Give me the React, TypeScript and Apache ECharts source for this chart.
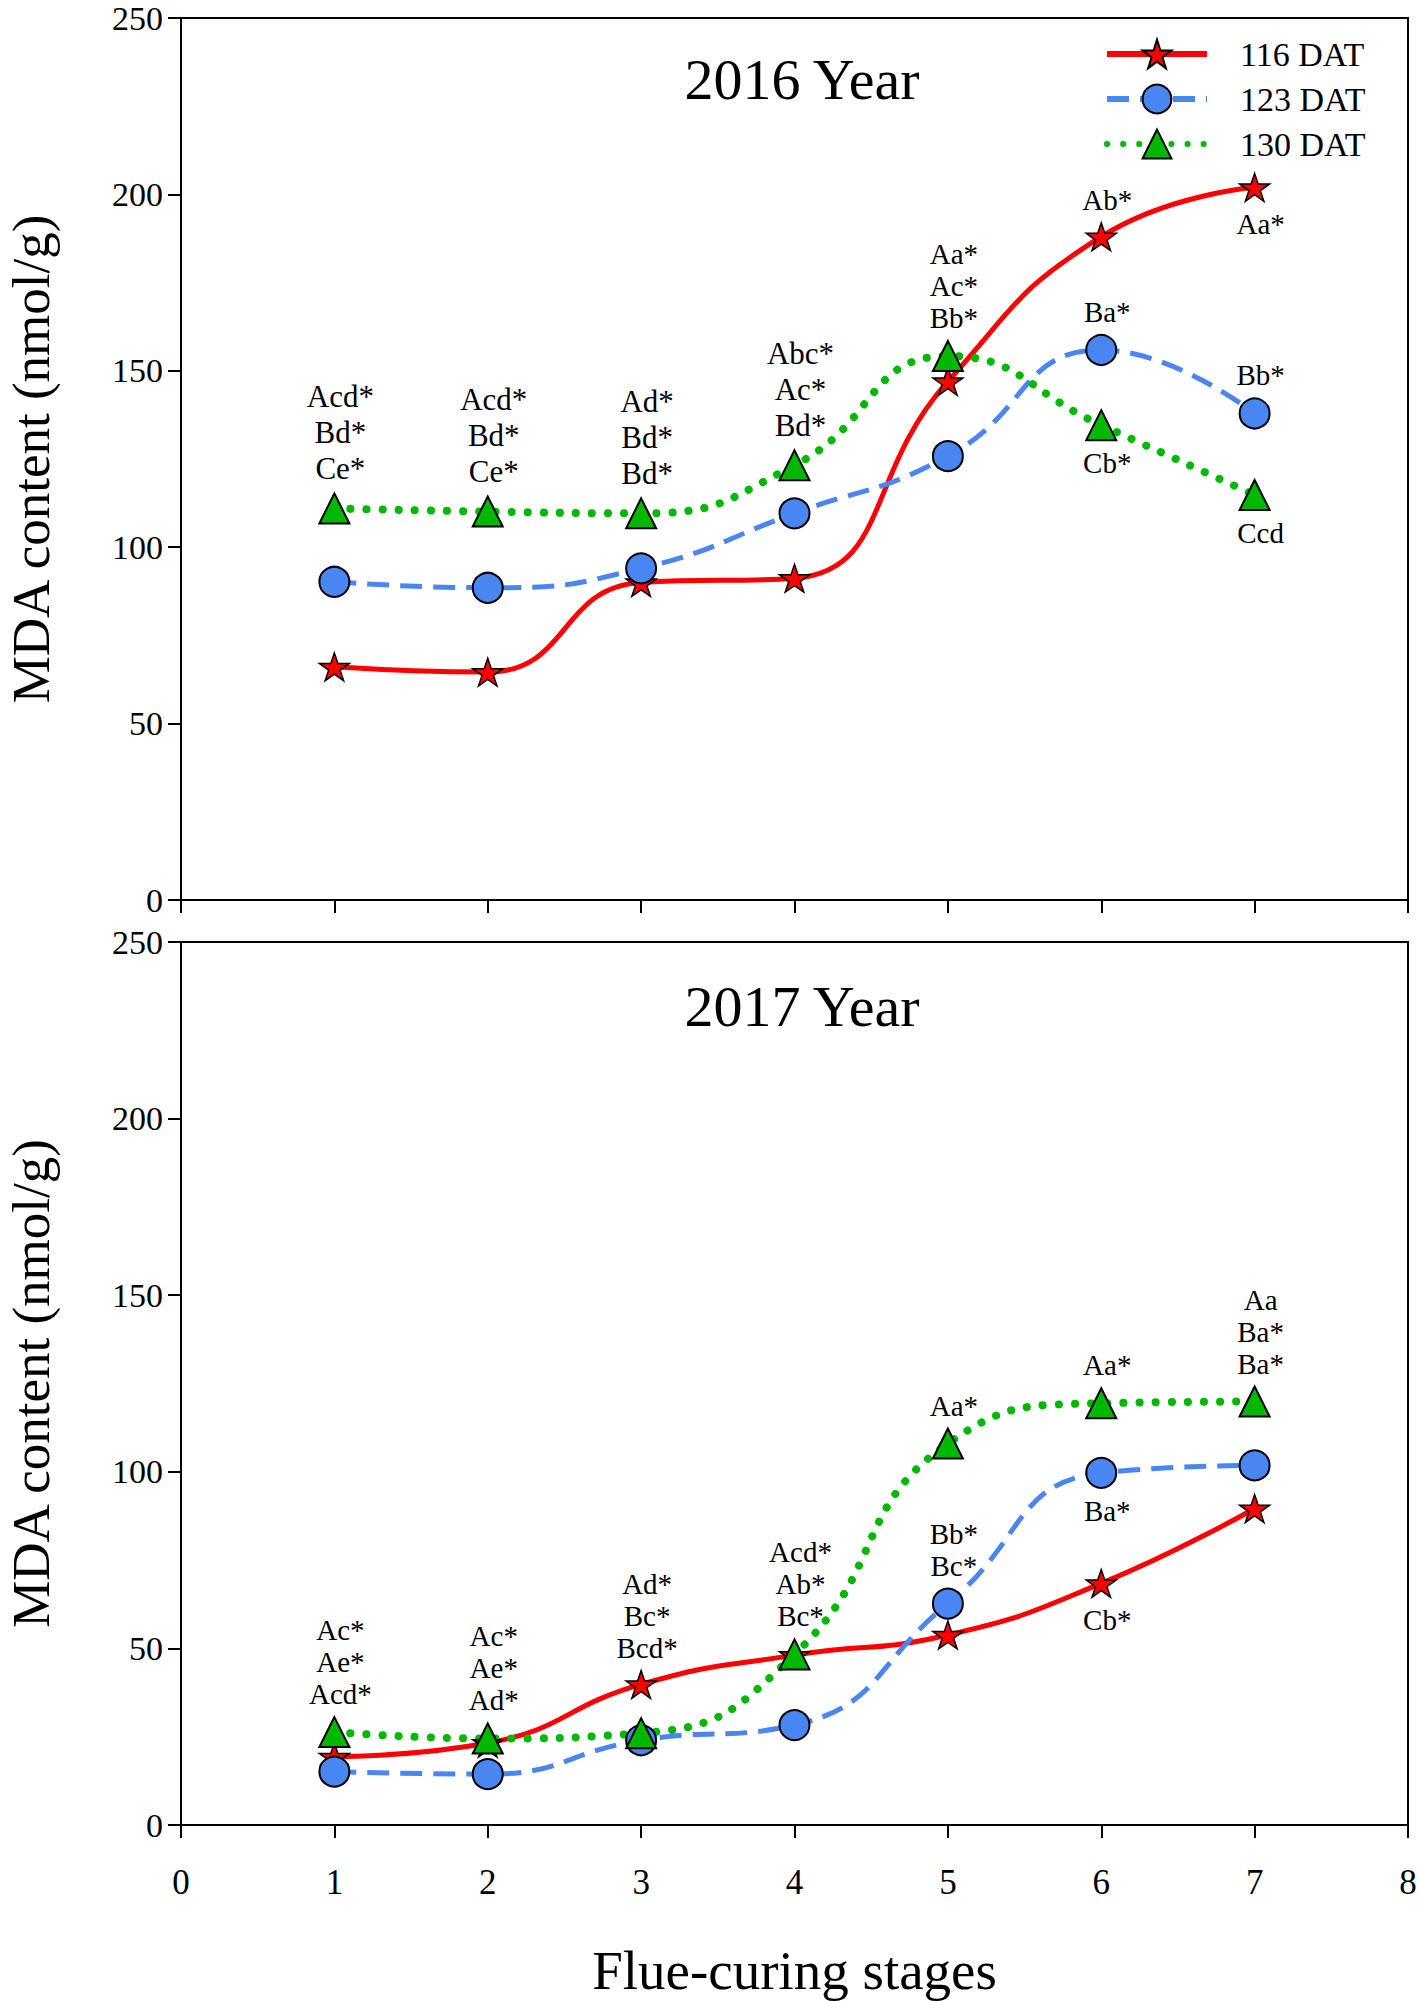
import React, { useEffect, useRef } from "react";
import * as echarts from "echarts";

// ---------- data ----------
const stages = [1, 2, 3, 4, 5, 6, 7];
const seriesNames = ["116 DAT", "123 DAT", "130 DAT"];

const mda2016_116 = [66.1, 64.6, 90.0, 91.2, 147.0, 188.0, 202.0];
const mda2016_123 = [90.2, 88.5, 94.0, 109.6, 125.8, 155.9, 137.9];
const mda2016_130 = [111.0, 110.1, 109.6, 123.2, 154.2, 134.6, 114.8];

const mda2017_116 = [19.3, 23.2, 39.8, 48.1, 53.8, 68.4, 89.6];
const mda2017_123 = [15.1, 14.4, 24.0, 28.3, 62.7, 99.7, 101.8];
const mda2017_130 = [26.3, 24.5, 26.0, 48.3, 108.0, 119.4, 119.9];

const yTicks = [0, 50, 100, 150, 200, 250];
const xTicks = [0, 1, 2, 3, 4, 5, 6, 7, 8];

// significance letters: attached to a series point (stage), shown above or below it
const notes2016 = [
  { series: "130 DAT", stage: 1, text: "Acd*\nBd*\nCe*", side: "top" },
  { series: "130 DAT", stage: 2, text: "Acd*\nBd*\nCe*", side: "top" },
  { series: "130 DAT", stage: 3, text: "Ad*\nBd*\nBd*", side: "top" },
  { series: "130 DAT", stage: 4, text: "Abc*\nAc*\nBd*", side: "top" },
  { series: "130 DAT", stage: 5, text: "Aa*\nAc*\nBb*", side: "top" },
  { series: "116 DAT", stage: 6, text: "Ab*", side: "top" },
  { series: "123 DAT", stage: 6, text: "Ba*", side: "top" },
  { series: "130 DAT", stage: 6, text: "Cb*", side: "bottom" },
  { series: "116 DAT", stage: 7, text: "Aa*", side: "bottom" },
  { series: "123 DAT", stage: 7, text: "Bb*", side: "top" },
  { series: "130 DAT", stage: 7, text: "Ccd", side: "bottom" },
];
const notes2017 = [
  { series: "130 DAT", stage: 1, text: "Ac*\nAe*\nAcd*", side: "top" },
  { series: "130 DAT", stage: 2, text: "Ac*\nAe*\nAd*", side: "top" },
  { series: "116 DAT", stage: 3, text: "Ad*\nBc*\nBcd*", side: "top" },
  { series: "130 DAT", stage: 4, text: "Acd*\nAb*\nBc*", side: "top" },
  { series: "130 DAT", stage: 5, text: "Aa*", side: "top" },
  { series: "123 DAT", stage: 5, text: "Bb*\nBc*", side: "top" },
  { series: "130 DAT", stage: 6, text: "Aa*", side: "top" },
  { series: "123 DAT", stage: 6, text: "Ba*", side: "bottom" },
  { series: "116 DAT", stage: 6, text: "Cb*", side: "bottom" },
  { series: "130 DAT", stage: 7, text: "Aa\nBa*\nBa*", side: "top" },
];

// ---------- styles ----------
const FONT = "'Liberation Serif', 'Times New Roman', serif";
const RED = "#FF0000";
const BLUE = "#4A86F2";
const GREEN = "#00B800";
const STAR =
  "path://M50,0 L61.8,35.1 L100,35.1 L69.1,57.4 L80.9,92.7 L50,70.8 L19.1,92.7 L30.9,57.4 L0,35.1 L38.2,35.1 Z";

const styleFor: Record<string, any> = {
  "116 DAT": {
    symbol: STAR,
    symbolSize: 30,
    symbolKeepAspect: true,
    lineStyle: { color: RED, width: 5, type: "solid" },
    itemStyle: { color: RED, borderColor: "#000", borderWidth: 1.5 },
  },
  "123 DAT": {
    symbol: "circle",
    symbolSize: 30,
    lineStyle: { color: BLUE, width: 5, type: [22, 11] },
    itemStyle: { color: BLUE, borderColor: "#000", borderWidth: 2 },
  },
  "130 DAT": {
    symbol: "triangle",
    symbolSize: 30,
    lineStyle: { color: GREEN, width: 8, type: [0.1, 16], cap: "round" },
    itemStyle: { color: GREEN, borderColor: "#000", borderWidth: 2 },
  },
};

function buildSeries(
  name: string,
  values: number[],
  notes: any[],
  panel: number
) {
  const st = styleFor[name];
  const data = stages.map((s, i) => {
    const note = notes.find((n) => n.series === name && n.stage === s);
    const item: any = { value: [s, values[i]] };
    if (note) {
      const wide = panel === 0 && s <= 4;
      item.label = {
        show: true,
        formatter: note.text,
        position: note.side,
        distance: 6,
        offset: [6, 0],
        fontFamily: FONT,
        fontSize: wide ? 31 : 29,
        color: "#000",
        lineHeight: wide ? 36 : 32,
        align: "center",
      };
    }
    return item;
  });
  return {
    type: "line",
    name,
    xAxisIndex: panel,
    yAxisIndex: panel,
    smooth: 0.5,
    showAllSymbol: true,
    symbol: st.symbol,
    symbolSize: st.symbolSize,
    symbolKeepAspect: st.symbolKeepAspect || false,
    lineStyle: st.lineStyle,
    itemStyle: st.itemStyle,
    label: { show: false },
    emphasis: { disabled: true },
    data,
  };
}

function xAxis(gridIndex: number, withLabels: boolean) {
  return {
    gridIndex,
    type: "value",
    min: xTicks[0],
    max: xTicks[xTicks.length - 1],
    interval: 1,
    axisLine: { show: true, onZero: false, lineStyle: { color: "#000", width: 2 } },
    axisTick: { show: true, inside: false, length: 13, lineStyle: { color: "#000", width: 2 } },
    axisLabel: {
      show: withLabels,
      margin: 40,
      fontFamily: FONT,
      fontSize: 35,
      color: "#000",
    },
    splitLine: { show: false },
    name: withLabels ? "Flue-curing stages" : "",
    nameLocation: "middle",
    nameGap: 118,
    nameTextStyle: { fontFamily: FONT, fontSize: 55, color: "#000" },
  };
}

function yAxis(gridIndex: number) {
  return {
    gridIndex,
    type: "value",
    min: yTicks[0],
    max: yTicks[yTicks.length - 1],
    interval: 50,
    axisLine: { show: true, lineStyle: { color: "#000", width: 2 } },
    axisTick: { show: true, inside: false, length: 13, lineStyle: { color: "#000", width: 2 } },
    axisLabel: {
      show: true,
      margin: 18,
      fontFamily: FONT,
      fontSize: 34,
      color: "#000",
    },
    splitLine: { show: false },
    name: "MDA content (nmol/g)",
    nameLocation: "middle",
    nameGap: 124,
    nameTextStyle: { fontFamily: FONT, fontSize: 53, color: "#000" },
  };
}

export default function App() {
  const ref = useRef<HTMLDivElement>(null);
  useEffect(() => {
    if (!ref.current) return;
    const chart = echarts.init(ref.current, null, { renderer: "svg" });
    const gridBase = {
      left: 181,
      width: 1227,
      show: true,
      borderColor: "#000",
      borderWidth: 2,
      backgroundColor: "transparent",
      containLabel: false,
      outerBoundsMode: "none",
    };
    const option: any = {
      animation: false,
      backgroundColor: "#fff",
      grid: [
        { ...gridBase, top: 18, height: 882 },
        { ...gridBase, top: 942, height: 883 },
      ],
      xAxis: [xAxis(0, false), xAxis(1, true)],
      yAxis: [yAxis(0), yAxis(1)],
      legend: {
        show: true,
        data: seriesNames,
        orient: "vertical",
        left: 1099,
        top: 32,
        itemWidth: 100,
        itemHeight: 36,
        itemGap: 11,
        selectedMode: false,
        lineStyle: { width: 6 },
        textStyle: { fontFamily: FONT, fontSize: 34, color: "#000", padding: [0, 0, 0, 28] },
      },
      graphic: [
        {
          type: "text",
          x: 802,
          y: 79,
          style: { text: "2016 Year", font: `58px ${FONT}`, fill: "#000", textAlign: "center", textVerticalAlign: "middle" },
        },
        {
          type: "text",
          x: 802,
          y: 1006,
          style: { text: "2017 Year", font: `58px ${FONT}`, fill: "#000", textAlign: "center", textVerticalAlign: "middle" },
        },
      ],
      series: [
        buildSeries("116 DAT", mda2016_116, notes2016, 0),
        buildSeries("123 DAT", mda2016_123, notes2016, 0),
        buildSeries("130 DAT", mda2016_130, notes2016, 0),
        buildSeries("116 DAT", mda2017_116, notes2017, 1),
        buildSeries("123 DAT", mda2017_123, notes2017, 1),
        buildSeries("130 DAT", mda2017_130, notes2017, 1),
      ],
    };
    chart.setOption(option);
    return () => chart.dispose();
  }, []);
  return (
    <div
      ref={ref}
      style={{ position: "absolute", left: 0, top: 0, width: 1418, height: 2001, background: "#fff" }}
    />
  );
}
